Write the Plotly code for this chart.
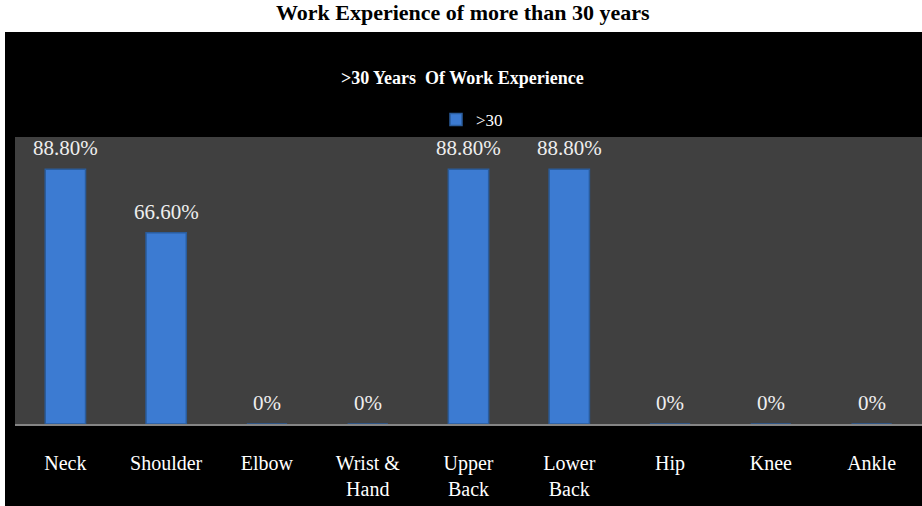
import plotly.graph_objects as go

categories = ["Neck", "Shoulder", "Elbow", "Wrist &<br>Hand", "Upper<br>Back",
              "Lower<br>Back", "Hip", "Knee", "Ankle"]
values = [88.8, 66.6, 0, 0, 88.8, 88.8, 0, 0, 0]
labels = ["88.80%", "66.60%", "0%", "0%", "88.80%", "88.80%", "0%", "0%", "0%"]
series_name = ">30"

W, H = 922, 506
serif = "Liberation Serif, Times New Roman, serif"

fig = go.Figure()
fig.add_trace(go.Bar(
    x=categories, y=values, name=series_name, width=0.40,
    marker=dict(color="#3c7bd2", line=dict(color="#2a5c9c", width=1.5)),
    showlegend=True,
))

annotations = []
for c, v, t in zip(categories, values, labels):
    annotations.append(dict(x=c, y=v, xref="x", yref="y", text=t, showarrow=False,
                            yanchor="bottom", yshift=7,
                            font=dict(family=serif, size=21, color="#eeeeee")))
annotations.append(dict(x=463 / W, y=1, xref="paper", yref="paper",
                        text="<b>Work Experience of more than 30 years</b>", showarrow=False,
                        yanchor="top", yshift=2,
                        font=dict(family=serif, size=22, color="#000000")))
annotations.append(dict(x=463 / W, y=1 - 66 / H, xref="paper", yref="paper",
                        text="<b>>30 Years  Of Work Experience</b>", showarrow=False,
                        font=dict(family=serif, size=18, color="#ffffff")))

fig.update_layout(
    width=W, height=H,
    margin=dict(l=0, r=0, t=0, b=0),
    paper_bgcolor="#000000",
    plot_bgcolor="#404040",
    bargap=0.60,
    shapes=[
        dict(type="rect", xref="paper", yref="paper", x0=0, x1=1, y0=1 - 32 / H, y1=1,
             fillcolor="#ffffff", line=dict(width=0), layer="below"),
        dict(type="rect", xref="paper", yref="paper", x0=0, x1=5 / W, y0=0, y1=1,
             fillcolor="#ffffff", line=dict(width=0), layer="below"),
    ],
    annotations=annotations,
    legend=dict(orientation="h", x=472 / W, y=1 - 120 / H, xanchor="center", yanchor="middle",
                bgcolor="rgba(0,0,0,0)", font=dict(family=serif, size=17, color="#ffffff"),
                itemwidth=30),
    xaxis=dict(domain=[15 / W, 1], showline=True, linecolor="#858585", linewidth=2,
               ticks="outside", ticklen=20, tickcolor="rgba(0,0,0,0)",
               tickfont=dict(family=serif, size=20, color="#ffffff"), showgrid=False),
    yaxis=dict(domain=[1 - 424 / H, 1 - 137 / H], range=[0, 100], showticklabels=False,
               showgrid=False, zeroline=False),
)

fig.write_html("out.html")
